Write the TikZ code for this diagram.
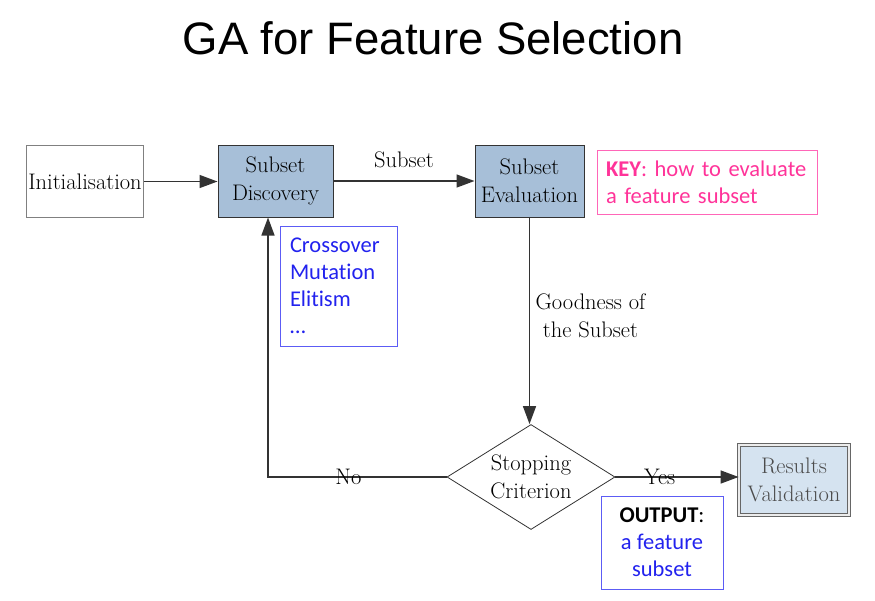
\documentclass[tikz,border=0pt]{standalone}
\usepackage{fontspec}
\newfontfamily\notefont[Ligatures={NoCommon}]{Carlito}
\newfontfamily\titlefont{Liberation Sans}
\usetikzlibrary{arrows.meta,shapes.geometric}
\definecolor{boxblue}{HTML}{A7BFD8}
\definecolor{paleblue}{HTML}{D5E3F0}
\definecolor{notepink}{HTML}{FF3399}
\definecolor{pinkline}{HTML}{FF66B8}
\definecolor{noteblue}{HTML}{2222EE}
\definecolor{blueline}{HTML}{5C5CF5}
\definecolor{edgegray}{HTML}{333333}

\begin{document}
\begin{tikzpicture}[x=1pt, y=-1pt,
        serif/.style={font=\fontsize{22.5}{28}\selectfont},
        stage/.style={serif, draw=edgegray, line width=1pt, fill=boxblue, minimum height=72pt, align=center, inner sep=2pt},
        note/.style={font=\notefont\fontsize{22.5}{27}\selectfont, line width=0.8pt, inner sep=0pt},
        flow/.style={draw=edgegray, line width=1.5pt, -{Triangle[length=18pt,width=13pt]}}]
        \useasboundingbox (0,0) rectangle (875,600);

        % Title
        \node (title) at (433,38) {\titlefont\fontsize{45.5}{50}\selectfont GA for Feature Selection};

        % Main steps
        \node[stage, fill=white, draw=gray, minimum width=116pt] (init) at (85,181.5) {Initialisation};
        \node[stage, minimum width=115pt] (disc) at (275.5,181) {Subset\\Discovery};
        \node[stage, minimum width=109pt] (eval) at (529.5,181) {Subset\\Evaluation};
        \node[serif, shape=diamond, aspect=1.6, draw=edgegray, line width=0.8pt, align=center, inner sep=0pt,
              minimum width=168pt, minimum height=105pt] (stop) at (531,477) {Stopping\\Criterion};
        \node[serif, draw=gray!80!black, line width=0.8pt, double=gray!15, double distance=2pt, fill=paleblue,
              text=black!70, align=center, minimum width=110pt, minimum height=70pt] (results) at (794,480) {Results\\Validation};

        % Notes
        \node[note, draw=pinkline, text=notepink, minimum width=220pt, minimum height=64pt,
              text width=202pt, align=left] (key) at (707,182) {\textbf{KEY}: how\ to\ evaluate\\a feature subset};
        \node[note, draw=blueline, text=noteblue, minimum width=117pt, minimum height=120pt,
              text width=97pt, align=left] (ops) at (338.5,286) {Crossover\\Mutation\\Elitism\\\dots};
        \node[note, draw=blueline, text=noteblue, minimum width=122pt, minimum height=93pt,
              align=center] (output) at (662,542.5) {\textcolor{black}{\textbf{OUTPUT}:}\\a feature\\subset};

        % Connectors
        \draw[flow] (init.east) -- (init.east -| disc.west);
        \draw[flow] (disc.east) -- node[serif, above=9pt] {Subset} (disc.east -| eval.west);
        \draw[flow] (eval.south) -- node[serif, right=2pt, align=center, yshift=5pt] {Goodness of\\the Subset} (eval.south |- stop.north);

        \coordinate (back) at (268,477);
        \draw[flow] (stop.west) -- node[serif, pos=0.55] {No} (back) -- (back |- disc.south);
        \draw[flow] (stop.east) -- node[serif, pos=0.36] {Yes} (stop.east -| results.west);
\end{tikzpicture}
\end{document}
